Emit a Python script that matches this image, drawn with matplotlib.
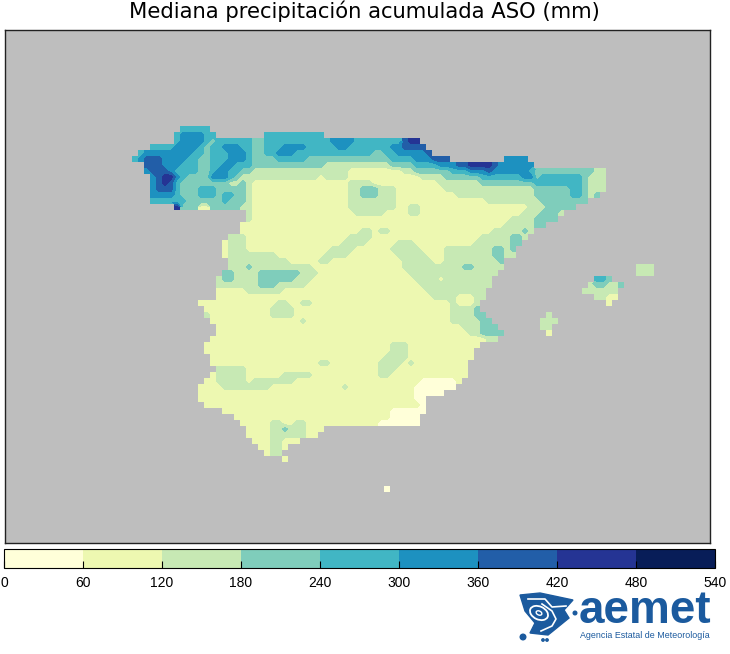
import numpy as np
import matplotlib
matplotlib.use('Agg')
import matplotlib.pyplot as plt
from matplotlib.colors import BoundaryNorm
from matplotlib.cm import ScalarMappable
from matplotlib.patches import Polygon, Circle, Ellipse

# Precipitation class of each grid cell (k means 60*k..60*k+60 mm, . is sea)
# spaces only split the row in groups of ten cells
rows = [
    "",
    "........44 444",
    ".......455 5544...... ..44444444 44",
    ".......455 5543444444 3344444444 4445555444 44444677",
    "...4444555 5434455544 3344455554 4444554444 444556666",
    ".455555555 4434445554 3344555444 4444444444 3344555556",
    "4566655554 4334445554 3333444443 3333333333 3334444555 666....... ..5555",
    "..66655544 4334455444 3333333333 3322222222 2223333444 4555667777 6555555",
    "..56665444 4334554433 2222222222 2222221111 1111122333 3334445556 5555554333 333333322",
    "...5677543 3335554322 2222222222 2122221111 1111111122 2233333344 4444455344 444443222",
    "...5676433 3333332232 1111111111 1111112222 1111111111 1222222233 3333333444 444443222",
    "...5666433 3444333332 1111111111 1111112233 3222111111 1122222222 2222222333 333443222",
    "...5555433 3444344332 1111111111 1111112233 3222111111 1111222222 2222222333 33344323",
    "...4444443 3333343332 1111111111 1111112222 2222111111 1111111112 2222222233 333333",
    ".......733 3113333322 1111111111 1111112222 2222112211 1111111111 1111112223 3333",
    ".......... .........2 1111111111 1111111222 2211112211 1111111111 1111122233 32",
    ".......... .........2 1111111111 1111111111 1111111111 1111111111 1112222333 3",
    ".......... ........11 1111111111 1111111111 1111111111 1111111111 112222233",
    ".......... ........11 1111111111 1111111122 1221111111 1111111111 2222232",
    ".......... ......2221 1111111111 1111112222 1111111111 1111111122 222332",
    ".......... .....12221 1111111111 1111122221 1111222111 1111111222 22233",
    ".......... .....12221 1111111111 1112222111 1112222211 1122222222 3323",
    ".......... .....12222 2222111111 1122221111 1111222221 1122222222 3322",
    ".......... ......2222 2222221111 1221111111 1111122222 1122222222 23",
    ".......... ......2223 2222222222 1111111111 1111122222 2222233222 22........ .......... ....222",
    ".......... .....33222 2333333322 2111111111 1111112222 2222222222 2......... .......... ....222",
    ".......... ....233222 2333333222 1111111111 1111111222 2122222222 .......... .......443",
    ".......... ....222222 2333222221 1111111111 1111111122 2222222222 .......... ......2332 23",
    ".......... ....111112 2222211111 1111111111 1111111112 222222222. .......... .....22222 2",
    ".......... ....111111 1111111111 1111111111 1111111111 222211122. .......... .......221 1",
    ".......... .111111111 1111221122 1111111111 1111111111 11121112.. .......... .........1",
    ".......... ..11111111 1112222111 1111111111 1111111111 11122223",
    ".......... ..21111111 1112222111 1111111111 1111111111 111222233. .........2",
    ".......... ...1111111 1111111121 1111111111 1111111111 1112222233 ........22 2",
    ".......... ....111111 1111111111 1111111111 1111111111 1111122233 3.......22",
    ".......... ....111111 1111111111 1111111111 1111111111 1111112233 33.......1",
    ".......... ...1111111 1111111111 1111111111 1111111111 1111111112 2",
    ".......... ..11111111 1111111111 1111111111 1112221111 11111111",
    ".......... ..11111111 1111111111 1111111111 1112221111 1111111",
    ".......... ...1111111 1111111111 1111111111 1122221111 1111111",
    ".......... ...1111111 1111111111 1221111111 1222212111 111111",
    ".......... ....222221 1111111111 1111111111 1222111111 111111",
    ".......... ...1222221 1111122222 1111111111 1221111111 111111",
    ".......... ..11222221 2222222111 1111111111 1111111100 00001",
    ".......... .111122222 2221111111 1111121111 1111111000 0000",
    ".......... .111111111 1111111111 1111111111 1111111000 00",
    ".......... .111111111 1111111111 1111111111 111111100",
    ".......... ..11111111 1111111111 1111111111 111111110",
    ".......... .....11111 1111111111 1111111111 111000000",
    ".......... .......111 1111111111 1111111111 11100000",
    ".......... ........11 1112211221 1111111111 10000000",
    ".......... .........1 1112232221 11",
    ".......... .........1 1112222221 1",
    ".......... .......... 11122111",
    ".......... .......... .11221",
    ".......... .......... ..122",
    ".......... .......... .....1",
    "", "", "", "",
    ".......... .......... .......... .......... ..0",
]
bar_ticks = [0, 60, 120, 180, 240, 300, 360, 420, 480, 540]
title = 'Mediana precipitación acumulada ASO (mm)'

n_cols = 90
cells = [r.replace(' ', '').ljust(n_cols, '.') for r in rows]
grid = np.array([[np.nan if c == '.' else 60 * int(c) + 30 for c in r] for r in cells])
x_edges = np.arange(n_cols + 1)
y_edges = np.arange(len(cells) + 1)
x_mid = x_edges[:-1] + 0.5
y_mid = y_edges[:-1] + 0.5

cmap = plt.get_cmap('YlGnBu', 9)
norm = BoundaryNorm(bar_ticks, 9)

W, H = 730, 654
fig = plt.figure(figsize=(W / 100, H / 100), dpi=100)

ax = fig.add_axes([5 / W, 1 - 543 / H, 705 / W, 513 / H])
ax.set_facecolor('#bebebe')
ax.pcolormesh(x_edges, y_edges, grid, cmap=cmap, norm=norm)
ax.contourf(x_mid, y_mid, grid, levels=bar_ticks, cmap=cmap, norm=norm)
# grid cells are 6 px wide, first one starts at pixel (132, 120)
ax.set_xlim((5 - 132) / 6, (710 - 132) / 6)
ax.set_ylim((543 - 120) / 6, (30 - 120) / 6)
ax.set_xticks([])
ax.set_yticks([])
for s in ax.spines.values():
    s.set_linewidth(1.0)
    s.set_color('#222222')

fig.text(364 / W, 1 - 11 / H, title, ha='center', va='center', fontsize=15.2, color='black')

cax = fig.add_axes([4 / W, 1 - 568 / H, 711 / W, 19 / H])
cb = fig.colorbar(ScalarMappable(norm=norm, cmap=cmap), cax=cax, orientation='horizontal', ticks=bar_ticks)
cb.outline.set_linewidth(0.8)
cax.tick_params(axis='x', direction='in', length=5, width=0.8, pad=6, labelsize=10)
for t in cax.get_xticklabels():
    t.set_fontfamily(['Liberation Sans', 'DejaVu Sans'])

# aemet logo
blue = '#1b5a9e'
logo = fig.add_axes([0, 0, 1, 1])
logo.set_xlim(0, W)
logo.set_ylim(H, 0)
logo.axis('off')
logo.patch.set_alpha(0)
logo.add_patch(Polygon([(520, 595), (540, 593), (573, 600), (564, 610), (569, 618), (553, 631),
                        (548, 635), (530, 633), (535, 623), (525, 611)], color=blue))
logo.plot([528, 545, 552, 566], [599, 599, 607, 606], color='white', lw=1.2)
logo.plot([542, 552, 556, 552, 541], [604, 611, 619, 626, 631], color='white', lw=1.2)
logo.add_patch(Ellipse((539, 613), 19, 13, angle=25, fill=False, ec='white', lw=1.3))
logo.add_patch(Ellipse((539, 613), 6, 4, angle=25, fill=False, ec='white', lw=1.0))
for px, py, r in [(523, 637, 2.8), (575, 613, 1.8), (543, 640, 1.2), (547, 640, 1.2)]:
    logo.add_patch(Circle((px, py), r, color=blue))
logo.text(579, 623, 'aemet', color=blue, fontsize=33, fontweight='bold', ha='left', va='baseline',
          family=['Liberation Sans', 'DejaVu Sans'])
logo.text(580, 635, 'Agencia Estatal de Meteorología', color=blue, fontsize=6.4, ha='left', va='center',
          family=['Liberation Sans', 'DejaVu Sans'])

fig.savefig('out.png', dpi=100)
